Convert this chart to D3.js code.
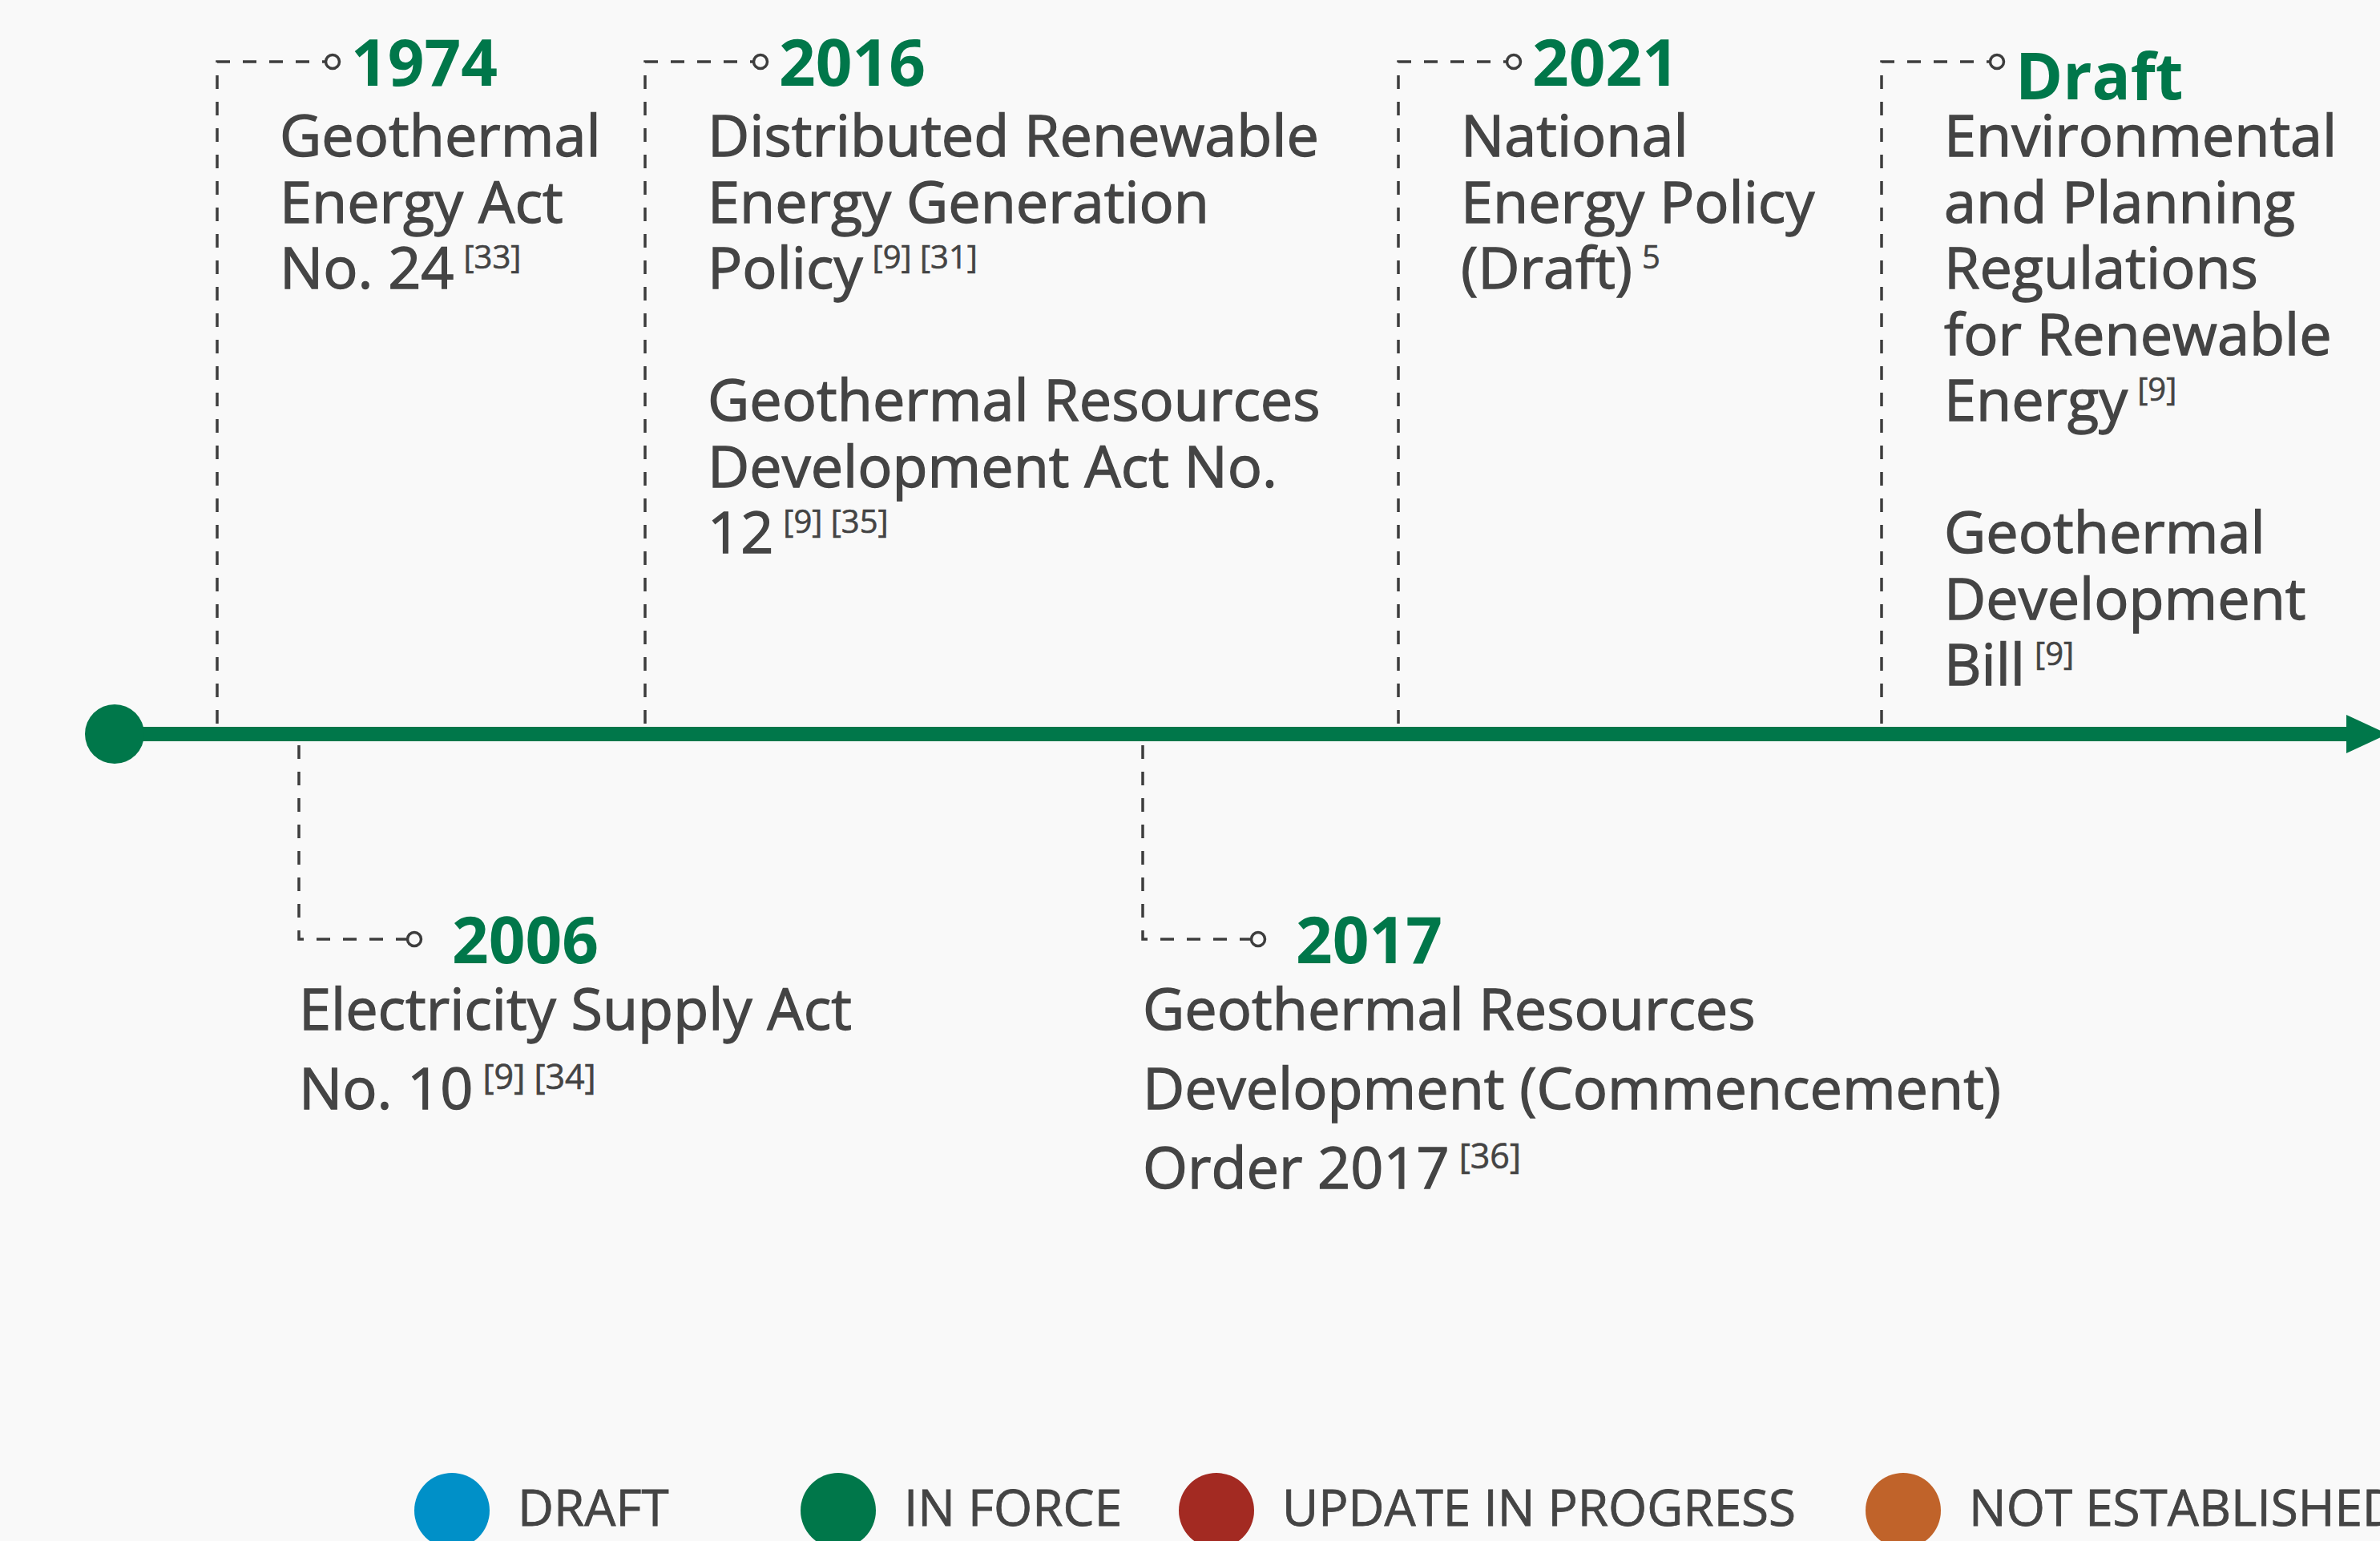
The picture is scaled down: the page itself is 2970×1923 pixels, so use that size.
<!DOCTYPE html>
<html>
<head>
<meta charset="utf-8">
<script src="https://cdn.jsdelivr.net/npm/d3@7"></script>
<style>
  html, body { margin: 0; padding: 0; background: #f9f9f9; }
  svg { display: block; font-family: "Open Sans", sans-serif; }
</style>
</head>
<body>
<script>
// timeline entries, in order along the axis
const years = ["1974", "2006", "2016", "2017", "2021", "Draft"];
const sides = ["top", "bottom", "top", "bottom", "top", "top"];
const status = ["in force", "in force", "in force", "in force", "in force", "in force"];

// each line is [text, superscript]; null marks a paragraph break
const descriptions = [
  [["Geothermal"], ["Energy Act"], ["No. 24", "[33]"]],
  [["Electricity Supply Act"], ["No. 10", "[9] [34]"]],
  [["Distributed Renewable"], ["Energy Generation"], ["Policy", "[9] [31]"], null,
   ["Geothermal Resources"], ["Development Act No."], ["12", "[9] [35]"]],
  [["Geothermal Resources"], ["Development (Commencement)"], ["Order 2017", "[36]"]],
  [["National"], ["Energy Policy"], ["(Draft)", "5"]],
  [["Environmental"], ["and Planning"], ["Regulations"], ["for Renewable"], ["Energy", "[9]"], null,
   ["Geothermal"], ["Development"], ["Bill", "[9]"]]
];

const legendLabels = ["DRAFT", "IN FORCE", "UPDATE IN PROGRESS", "NOT ESTABLISHED"];
const legendKeys = ["draft", "in force", "update in progress", "not established"];

const width = 2970, height = 1923;
const textColor = "#444444";
const dashColor = "#3d3d3d";

const color = d3.scaleOrdinal()
  .domain(legendKeys)
  .range(["#0090c8", "#00774a", "#a32a22", "#c0632a"]);

// anchor positions of the connectors along the axis (not proportional to time)
const x = d3.scaleOrdinal()
  .domain(years)
  .range([271, 373, 805, 1426, 1745, 2348]);

const legendX = d3.scaleOrdinal()
  .domain(legendKeys)
  .range([564, 1046, 1518, 2375]);

const axisY = 916;

const svg = d3.select("body").append("svg")
  .attr("width", width)
  .attr("height", height)
  .attr("viewBox", [0, 0, width, height]);

svg.append("rect")
  .attr("width", width)
  .attr("height", height)
  .attr("fill", "#f9f9f9");

const items = years.map((y, i) => ({
  year: y,
  side: sides[i],
  status: status[i],
  lines: descriptions[i]
}));

// dashed connectors
const hook = svg.append("g");

hook.selectAll("path")
  .data(items)
  .join("path")
  .attr("fill", "none")
  .attr("stroke", dashColor)
  .attr("stroke-width", 3.5)
  .attr("stroke-dasharray", "17,16")
  .attr("d", d => {
    const x0 = x(d.year);
    const cx = x0 + 144;
    return d.side === "top"
      ? `M${x0},903V77H${cx - 9}`
      : `M${x0},930V1172H${cx - 9}`;
  });

hook.selectAll("circle")
  .data(items)
  .join("circle")
  .attr("cx", d => x(d.year) + 144)
  .attr("cy", d => d.side === "top" ? 77 : 1172)
  .attr("r", 8.5)
  .attr("fill", "#f9f9f9")
  .attr("stroke", dashColor)
  .attr("stroke-width", 3.5);

// main axis
svg.append("line")
  .attr("x1", 143)
  .attr("x2", 2935)
  .attr("y1", axisY)
  .attr("y2", axisY)
  .attr("stroke", color("in force"))
  .attr("stroke-width", 18);

svg.append("circle")
  .attr("cx", 143)
  .attr("cy", axisY)
  .attr("r", 37)
  .attr("fill", color("in force"));

svg.append("path")
  .attr("d", `M2928,${axisY - 24}L2980,${axisY}L2928,${axisY + 24}Z`)
  .attr("fill", color("in force"));

// year labels
svg.append("g")
  .selectAll("text")
  .data(items)
  .join("text")
  .attr("x", d => x(d.year) + (d.side === "top" ? 167 : 191))
  .attr("y", d => d.side === "top" ? (isNaN(+d.year) ? 124 : 107) : 1202)
  .attr("fill", d => color(d.status))
  .attr("font-size", 80)
  .attr("font-weight", 700)
  .text(d => d.year);

// descriptions (thin stroke to match the heavier rendering of the original)
const body = svg.append("g")
  .attr("fill", textColor)
  .attr("stroke", textColor)
  .attr("stroke-width", 1.3)
  .attr("font-size", 72);

items.forEach(d => {
  const top = d.side === "top";
  const bx = top ? x(d.year) + 78 : x(d.year);
  const y0 = top ? 195 : 1285;
  const lh = top ? 82.5 : 99;
  d.lines.forEach((line, i) => {
    if (!line) return;
    const t = body.append("text")
      .attr("x", bx)
      .attr("y", y0 + i * lh)
      .text(line[0]);
    if (line[1]) {
      t.append("tspan")
        .attr("dx", 12)
        .attr("dy", -25)
        .attr("font-size", top ? 40 : 43)
        .attr("stroke-width", 0.6)
        .text(line[1]);
    }
  });
});

// legend
const legend = svg.append("g")
  .selectAll("g")
  .data(legendKeys)
  .join("g");

legend.append("circle")
  .attr("cx", d => legendX(d))
  .attr("cy", 1885)
  .attr("r", 47)
  .attr("fill", d => color(d));

legend.append("text")
  .attr("x", d => legendX(d) + 82)
  .attr("y", 1904)
  .attr("font-size", 62)
  .attr("fill", textColor)
  .attr("stroke", textColor)
  .attr("stroke-width", 0.8)
  .text((d, i) => legendLabels[i]);
</script>
</body>
</html>
